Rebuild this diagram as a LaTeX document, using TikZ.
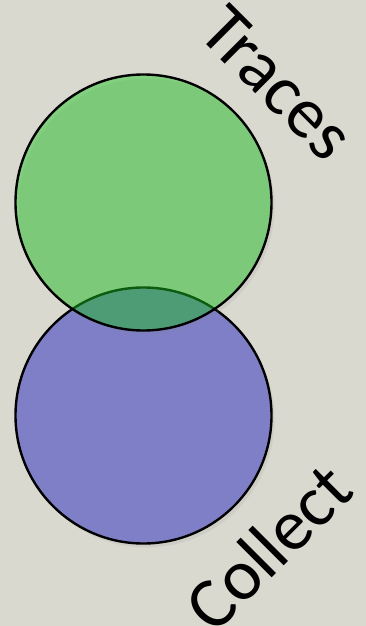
\documentclass[tikz,border=0pt]{standalone}
\usepackage{fontspec}
\setmainfont{Carlito}
\usepackage{tikz}
\usetikzlibrary{shadows}

\definecolor{paper}{RGB}{218,217,208}
\definecolor{setgreen}{RGB}{10,197,15}
\definecolor{setblue}{RGB}{127,127,200}

\begin{document}
\begin{tikzpicture}[x=1pt, y=1pt,
	ring/.style={draw, circle, line width=2.4pt, minimum size=256pt, inner sep=0pt,
		drop shadow={shadow xshift=3pt, shadow yshift=-4pt, opacity=0.12}},
	lbl/.style={font=\fontsize{72}{72}\selectfont, inner sep=0pt}]
	\fill[paper] (0,0) rectangle (366,-626);
	\useasboundingbox (0,0) rectangle (366,-626);
	\node[ring, fill=setblue] (collect) at (143.5,-415.5) {};
	\node[ring, fill=setgreen, fill opacity=0.42] (traces) at (143.5,-202.5) {};
	\node[lbl, rotate=-45] (tracestext) at (277,-83) {Traces};
	\node[lbl, rotate=45] (collecttext) at (268,-547) {Collect};
\end{tikzpicture}
\end{document}
